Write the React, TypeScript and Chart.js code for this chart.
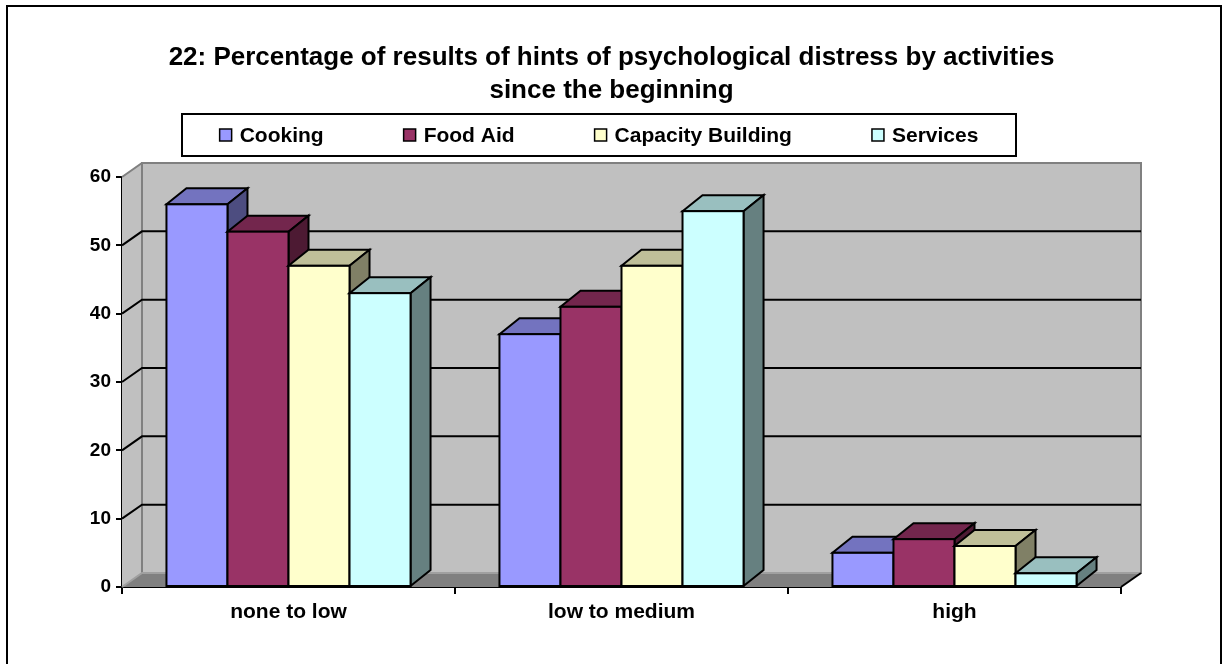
import React, { useEffect, useRef } from 'react';
import { Chart, registerables } from 'chart.js';

Chart.register(...registerables);

// ---- data ----
const categories = ['none to low', 'low to medium', 'high'];
const seriesNames = ['Cooking', 'Food Aid', 'Capacity Building', 'Services'];
const cooking = [56, 37, 5];
const foodAid = [52, 41, 7];
const capacityBuilding = [47, 47, 6];
const services = [43, 55, 2];
const yTickValues = [0, 10, 20, 30, 40, 50, 60];
const titleLines = [
  '22: Percentage of results of hints of psychological distress by activities',
  'since the beginning',
];

// ---- styles ----
const FONT = '"Liberation Sans", Arial, Helvetica, sans-serif';
const frontColors = ['#9999FF', '#993366', '#FFFFCC', '#CCFFFF'];
const WALL = '#C0C0C0';
const FLOOR = '#808080';
const WALL_DX = 20;
const WALL_DY = -14;
const BAR_DX = 20;
const BAR_DY = -16;
const LEGEND_BOX = { x: 182, y: 114, w: 834, h: 42 };

function shade(hex: string, f: number): string {
  const n = parseInt(hex.slice(1), 16);
  const r = Math.round(((n >> 16) & 255) * f);
  const g = Math.round(((n >> 8) & 255) * f);
  const b = Math.round((n & 255) * f);
  return `rgb(${r},${g},${b})`;
}

const threeDPlugin = {
  id: 'threeD',
  beforeDraw(chart: any) {
    const ctx = chart.ctx;
    ctx.save();
    ctx.fillStyle = '#FFFFFF';
    ctx.fillRect(0, 0, chart.width, chart.height);
    ctx.strokeStyle = '#000000';
    ctx.lineWidth = 2;
    ctx.strokeRect(7, 6, 1214, chart.height + 20);
    ctx.restore();
  },
  beforeDatasetsDraw(chart: any) {
    const ctx = chart.ctx;
    const { left, right, top, bottom } = chart.chartArea;
    const yScale = chart.scales.y;
    ctx.save();
    // left wall
    ctx.fillStyle = WALL;
    ctx.beginPath();
    ctx.moveTo(left, top);
    ctx.lineTo(left + WALL_DX, top + WALL_DY);
    ctx.lineTo(left + WALL_DX, bottom + WALL_DY);
    ctx.lineTo(left, bottom);
    ctx.closePath();
    ctx.fill();
    // back wall
    ctx.fillRect(left + WALL_DX, top + WALL_DY, right - left, bottom - top);
    // floor
    ctx.fillStyle = FLOOR;
    ctx.beginPath();
    ctx.moveTo(left, bottom);
    ctx.lineTo(left + WALL_DX, bottom + WALL_DY);
    ctx.lineTo(right + WALL_DX, bottom + WALL_DY);
    ctx.lineTo(right, bottom);
    ctx.closePath();
    ctx.fill();
    // wall edges
    ctx.strokeStyle = '#808080';
    ctx.lineWidth = 2;
    ctx.strokeRect(left + WALL_DX, top + WALL_DY, right - left, bottom - top);
    // gridlines
    yTickValues.forEach((v) => {
      const py = yScale.getPixelForValue(v);
      const edge = v === yTickValues[0] || v === yTickValues[yTickValues.length - 1];
      ctx.strokeStyle = edge ? (v === 0 ? '#A0A0A0' : '#808080') : '#000000';
      ctx.lineWidth = 2;
      ctx.beginPath();
      ctx.moveTo(left, py);
      ctx.lineTo(left + WALL_DX, py + WALL_DY);
      ctx.lineTo(right + WALL_DX, py + WALL_DY);
      ctx.stroke();
    });
    // floor right edge
    ctx.strokeStyle = '#000000';
    ctx.beginPath();
    ctx.moveTo(right, bottom);
    ctx.lineTo(right + WALL_DX, bottom + WALL_DY);
    ctx.stroke();
    ctx.restore();
  },
  afterDatasetsDraw(chart: any) {
    const ctx = chart.ctx;
    ctx.save();
    ctx.lineWidth = 2;
    ctx.strokeStyle = '#000000';
    ctx.lineJoin = 'miter';
    chart.data.datasets.forEach((ds: any, i: number) => {
      const meta = chart.getDatasetMeta(i);
      const col = frontColors[i];
      meta.data.forEach((el: any) => {
        const { x, y, base, width } = el.getProps(['x', 'y', 'base', 'width'], true);
        const x0 = x - width / 2;
        const x1 = x + width / 2;
        // top
        ctx.fillStyle = shade(col, 0.75);
        ctx.beginPath();
        ctx.moveTo(x0, y);
        ctx.lineTo(x0 + BAR_DX, y + BAR_DY);
        ctx.lineTo(x1 + BAR_DX, y + BAR_DY);
        ctx.lineTo(x1, y);
        ctx.closePath();
        ctx.fill();
        ctx.stroke();
        // side
        ctx.fillStyle = shade(col, 0.5);
        ctx.beginPath();
        ctx.moveTo(x1, y);
        ctx.lineTo(x1 + BAR_DX, y + BAR_DY);
        ctx.lineTo(x1 + BAR_DX, base + BAR_DY);
        ctx.lineTo(x1, base);
        ctx.closePath();
        ctx.fill();
        ctx.stroke();
        // front
        ctx.fillStyle = col;
        ctx.fillRect(x0, y, x1 - x0, base - y);
        ctx.strokeRect(x0, y, x1 - x0, base - y);
      });
    });
    ctx.restore();
  },
  afterDraw(chart: any) {
    const ctx = chart.ctx;
    ctx.save();
    // legend
    ctx.fillStyle = '#FFFFFF';
    ctx.fillRect(LEGEND_BOX.x, LEGEND_BOX.y, LEGEND_BOX.w, LEGEND_BOX.h);
    ctx.strokeStyle = '#000000';
    ctx.lineWidth = 2;
    ctx.strokeRect(LEGEND_BOX.x, LEGEND_BOX.y, LEGEND_BOX.w, LEGEND_BOX.h);
    ctx.font = `bold 21px ${FONT}`;
    ctx.textBaseline = 'middle';
    const marker = 12;
    const markerGap = 8;
    const gap = 80;
    const labels = chart.data.datasets.map((d: any) => d.label);
    const widths = labels.map((t: string) => marker + markerGap + ctx.measureText(t).width);
    const total = widths.reduce((a: number, b: number) => a + b, 0) + gap * (labels.length - 1);
    let x = LEGEND_BOX.x + LEGEND_BOX.w / 2 - total / 2;
    const cy = LEGEND_BOX.y + LEGEND_BOX.h / 2;
    labels.forEach((t: string, i: number) => {
      ctx.fillStyle = frontColors[i];
      ctx.fillRect(x, cy - marker / 2, marker, marker);
      ctx.lineWidth = 1.5;
      ctx.strokeStyle = '#000000';
      ctx.strokeRect(x, cy - marker / 2, marker, marker);
      ctx.fillStyle = '#000000';
      ctx.fillText(t, x + marker + markerGap, cy + 1);
      x += widths[i] + gap;
    });
    ctx.restore();
  },
};

export default function App() {
  const ref = useRef<HTMLCanvasElement | null>(null);
  useEffect(() => {
    if (!ref.current) return;
    const seriesValues = [cooking, foodAid, capacityBuilding, services];
    const chart = new Chart(ref.current, {
      type: 'bar',
      data: {
        labels: categories,
        datasets: seriesNames.map((name, i) => ({
          label: name,
          data: seriesValues[i],
          backgroundColor: frontColors[i],
          borderColor: '#000000',
          borderWidth: 0,
          categoryPercentage: 0.733,
          barPercentage: 1,
        })),
      },
      options: {
        responsive: false,
        animation: false,
        layout: { padding: { top: 41, left: 0, right: 0, bottom: 0 } },
        plugins: {
          legend: { display: false },
          tooltip: { enabled: false },
          title: {
            display: true,
            text: titleLines,
            color: '#000000',
            font: { family: FONT, size: 26, weight: 'bold', lineHeight: '33px' },
            padding: { top: 0, bottom: 70 },
          },
        },
        scales: {
          x: {
            grid: {
              offset: true,
              drawOnChartArea: false,
              drawTicks: true,
              tickLength: 7,
              color: '#000000',
              lineWidth: 2,
            },
            border: { display: true, color: '#000000', width: 2 },
            ticks: {
              color: '#000000',
              font: { family: FONT, size: 21, weight: 'bold' },
              padding: 6,
              maxRotation: 0,
            },
            afterFit: (scale: any) => {
              scale.height = 77;
            },
          },
          y: {
            min: 0,
            max: 60,
            ticks: {
              stepSize: 10,
              color: '#000000',
              font: { family: FONT, size: 19, weight: 'bold' },
              padding: 5,
            },
            grid: {
              drawOnChartArea: false,
              drawTicks: true,
              tickLength: 6,
              color: '#000000',
              lineWidth: 2,
            },
            border: { display: true, color: '#000000', width: 2 },
            afterFit: (scale: any) => {
              scale.width = 122;
            },
          },
          spacer: {
            type: 'linear',
            position: 'right',
            display: true,
            grid: { display: false, drawTicks: false },
            border: { display: false },
            ticks: { display: false },
            afterFit: (scale: any) => {
              scale.width = 102;
            },
          },
        },
      },
      plugins: [threeDPlugin],
    });
    return () => chart.destroy();
  }, []);
  return (
    <div style={{ position: 'absolute', left: 0, top: 0, width: 1223, height: 664 }}>
      <canvas ref={ref} width={1223} height={664} style={{ display: 'block' }} />
    </div>
  );
}
